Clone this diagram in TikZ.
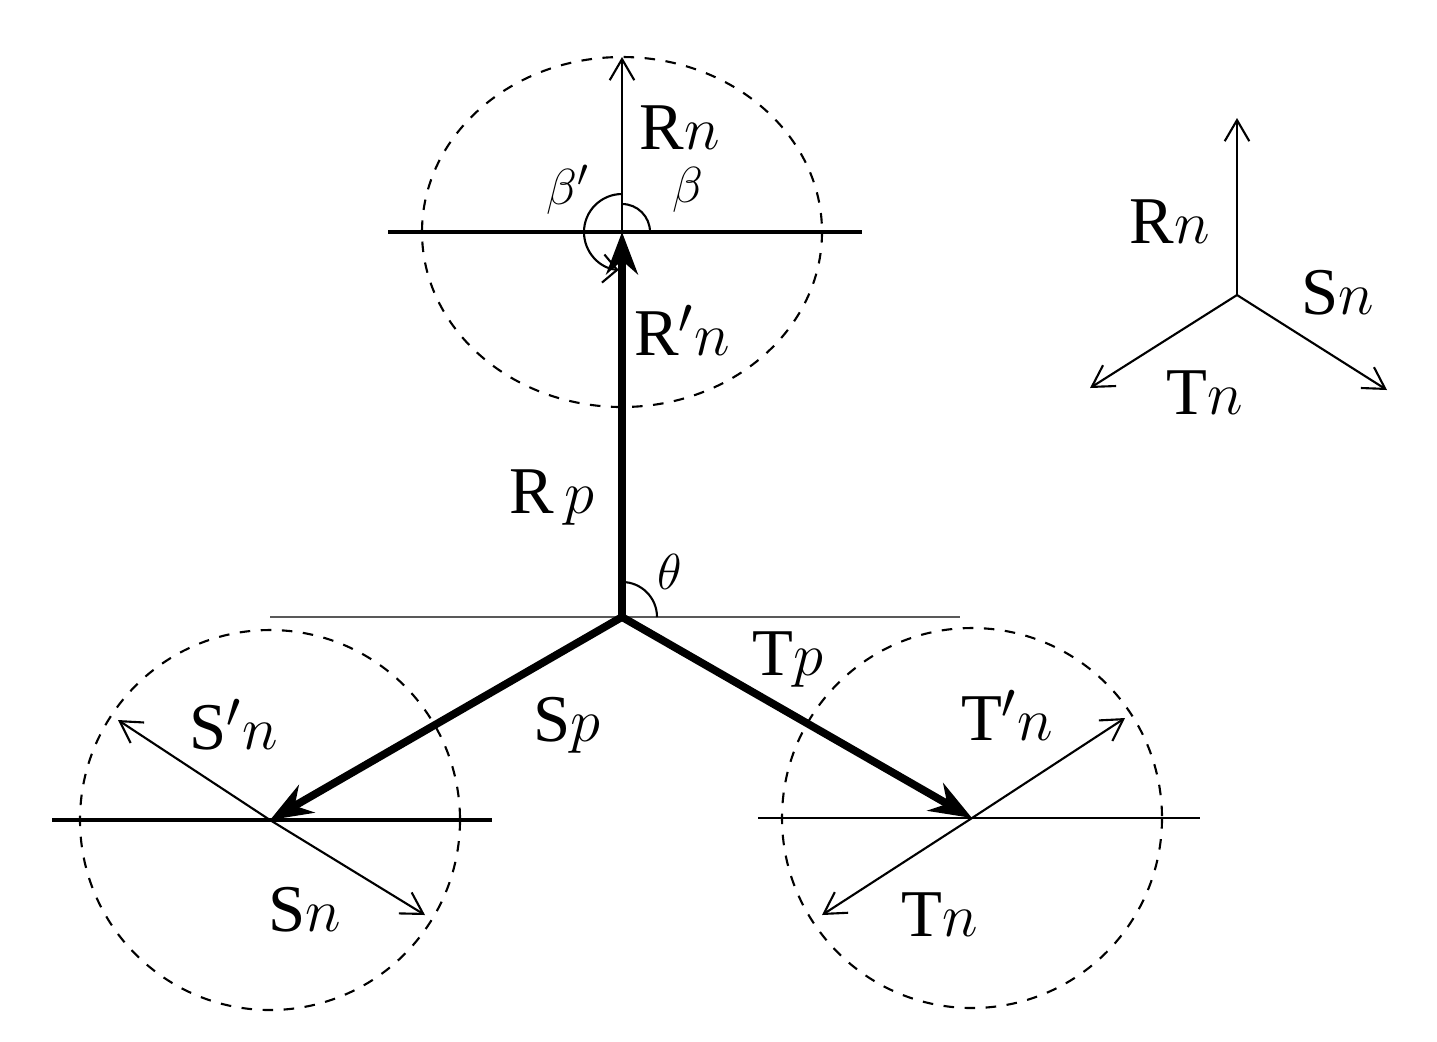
\documentclass[tikz,border=0pt]{standalone}
\usepackage{fontspec}
\setmainfont{Liberation Serif}
\usetikzlibrary{arrows.meta}
\begin{document}
\begin{tikzpicture}[x=0.01cm,y=-0.01cm,
  lab/.style={font=\fontsize{19}{22}\selectfont},
  sm/.style={font=\fontsize{15}{18}\selectfont},
  thick arr/.style={line width=2.2pt,-{Stealth[length=12pt,width=9pt]}},
  thin arr/.style={line width=0.6pt,-{Straight Barb[length=6pt,width=7pt]}},
  circ/.style={dashed,line width=0.6pt},
  hl/.style={line width=0.8pt}]
\useasboundingbox (0,0) rectangle (1437,1041);
\coordinate (O) at (622,617);
\coordinate (R) at (622,232);
\coordinate (S) at (270,820);
\coordinate (T) at (972,818);
% circles
\draw[circ] (R) ellipse [x radius=200,y radius=175];
\draw[circ] (S) circle (190);
\draw[circ] (T) circle (190);
% horizontal lines
\draw[line width=0.5pt,gray!70!black] (270,617) -- (960,617);
\draw[line width=1.2pt] (388,232) -- (862,232);
\draw[line width=1pt] (52,820) -- (492,820);
\draw[line width=0.6pt] (758,818) -- (1200,818);
% thick vectors
\draw[thick arr] (O) -- (R);
\draw[thick arr] (O) -- (S);
\draw[thick arr] (O) -- (T);
% thin arrows
\coordinate (Rtop) at (622,57);
\draw[thin arr] (R) -- (Rtop);
\coordinate (S1) at (118,720); \coordinate (S2) at (425,915);
\draw[thin arr] (S) -- (S1); \draw[thin arr] (S) -- (S2);
\coordinate (T1) at (1125,718); \coordinate (T2) at (822,915);
\draw[thin arr] (T) -- (T1); \draw[thin arr] (T) -- (T2);
% angles
\draw[line width=0.6pt] ([xshift=35*0.01cm]O) arc[start angle=0,end angle=90,radius=0.35cm];
\draw[line width=0.6pt] ([xshift=28*0.01cm]R) arc[start angle=0,end angle=90,radius=0.28cm];
\draw[line width=0.6pt,-{Straight Barb[length=4pt]}] ([yshift=38*0.01cm]R) arc[start angle=90,end angle=265,radius=0.38cm];
% labels
\node[lab] (lRn) at (680,128) {R$n$};
\node[sm] (lb1) at (568,190) {$\beta'$};
\node[sm] (lb) at (688,190) {$\beta$};
\node[lab] (lRpn) at (682,330) {R$'n$};
\node[lab] (lRp) at (552,498) {R$\,p$};
\node[sm] (lth) at (670,572) {$\theta$};
\node[lab] (lSpn) at (234,725) {S$'n$};
\node[lab] (lSn) at (305,910) {S$n$};
\node[lab] (lSp) at (567,725) {S$p$};
\node[lab] (lTp) at (788,660) {T$p$};
\node[lab] (lTpn) at (1007,715) {T$'n$};
\node[lab] (lTn) at (940,915) {T$n$};
% legend
\coordinate (L) at (1237,295);
\coordinate (L1) at (1237,118); \coordinate (L2) at (1387,390); \coordinate (L3) at (1090,388);
\draw[thin arr] (L) -- (L1); \draw[thin arr] (L) -- (L2); \draw[thin arr] (L) -- (L3);
\node[lab] (gR) at (1170,222) {R$n$};
\node[lab] (gS) at (1338,293) {S$n$};
\node[lab] (gT) at (1205,393) {T$n$};
\end{tikzpicture}
\end{document}
